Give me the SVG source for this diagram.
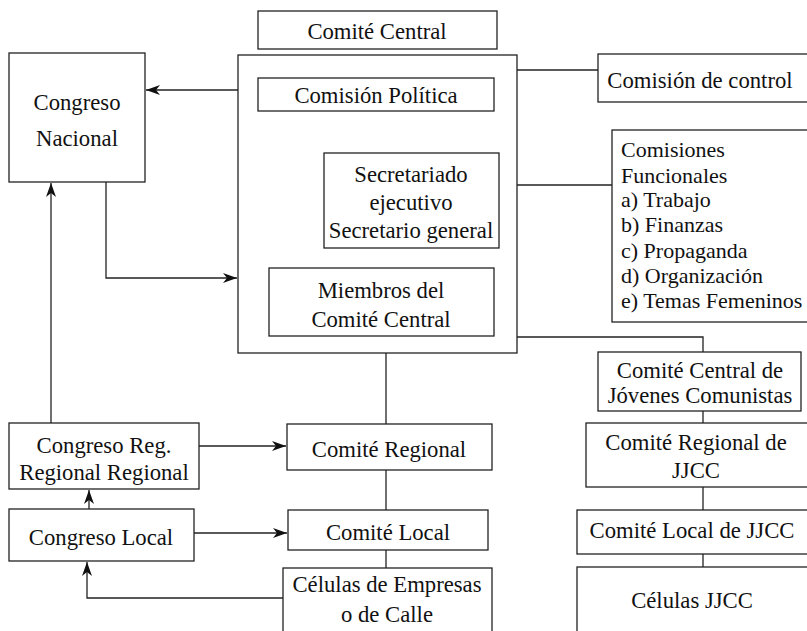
<svg xmlns="http://www.w3.org/2000/svg" width="807" height="631" viewBox="0 0 807 631">
<defs>
<marker id="ah" viewBox="0 0 14 10" refX="14" refY="5" markerWidth="14" markerHeight="10" markerUnits="userSpaceOnUse" orient="auto">
<path d="M0,0 L14,5 L0,10 L4,5 Z" fill="#111"/>
</marker>
</defs>
<style>
rect{fill:#fff;stroke:#222;stroke-width:1.3}
text{font-family:"Liberation Serif","Times New Roman",serif;font-size:22.7px;fill:#111;text-anchor:middle}
.l{text-anchor:start;font-size:22px}
.c line,.c polyline{stroke:#222;stroke-width:1.3;fill:none}
</style>
<rect width="807" height="631" style="fill:#fff;stroke:none"/>
<g class="c" id="connectors">
<line x1="238" y1="90" x2="146" y2="90" marker-end="url(#ah)"/>
<polyline points="106,182 106,278 237,278" marker-end="url(#ah)"/>
<line x1="288" y1="268" x2="288" y2="112" marker-end="url(#ah)"/>
<line x1="288" y1="193" x2="323" y2="193" marker-end="url(#ah)"/>
<line x1="517" y1="70" x2="598" y2="70"/>
<line x1="517" y1="185" x2="612" y2="185"/>
<polyline points="517,337 703,337 703,352"/>
<line x1="51" y1="423" x2="51" y2="183" marker-end="url(#ah)"/>
<line x1="89" y1="509" x2="89" y2="490" marker-end="url(#ah)"/>
<line x1="199" y1="446" x2="286" y2="446" marker-end="url(#ah)"/>
<line x1="194" y1="533" x2="287" y2="533" marker-end="url(#ah)"/>
<polyline points="283,598 87,598 87,562" marker-end="url(#ah)"/>
<line x1="386" y1="353" x2="386" y2="424"/>
<line x1="386" y1="470" x2="386" y2="510"/>
<line x1="386" y1="550" x2="386" y2="568"/>
<line x1="703" y1="411" x2="703" y2="423"/>
<line x1="703" y1="487" x2="703" y2="510"/>
<line x1="703" y1="554" x2="703" y2="567"/>
</g>
<g id="comite-central-title"><rect x="258" y="11" width="239" height="38"/><text x="377" y="39">Comité Central</text></g>
<g id="comite-central-box"><rect x="238" y="55" width="279" height="298"/></g>
<g id="congreso-nacional"><rect x="9" y="53" width="136" height="129"/><text x="77" y="110">Congreso</text><text x="77" y="146">Nacional</text></g>
<g id="comision-politica"><rect x="258" y="78" width="236" height="33"/><text x="376" y="103">Comisión Política</text></g>
<g id="secretariado"><rect x="324" y="153" width="175" height="95"/><text x="411" y="182">Secretariado</text><text x="411" y="210">ejecutivo</text><text x="411" y="238">Secretario general</text></g>
<g id="miembros"><rect x="269" y="268" width="225" height="68"/><text x="381" y="298">Miembros del</text><text x="381" y="327">Comité Central</text></g>
<g id="comision-control"><rect x="598" y="54" width="215" height="48"/><text x="700" y="88">Comisión de control</text></g>
<g id="comisiones-funcionales"><rect x="612" y="130" width="201" height="192"/>
<text class="l" x="621" y="157">Comisiones</text>
<text class="l" x="621" y="183">Funcionales</text>
<text class="l" x="621" y="207">a) Trabajo</text>
<text class="l" x="621" y="232">b) Finanzas</text>
<text class="l" x="621" y="258">c) Propaganda</text>
<text class="l" x="621" y="283">d) Organización</text>
<text class="l" x="621" y="308">e) Temas Femeninos</text></g>
<g id="cc-jovenes"><rect x="598" y="352" width="203" height="59"/><text x="700" y="378">Comité Central de</text><text x="700" y="403">Jóvenes Comunistas</text></g>
<g id="cr-jjcc"><rect x="586" y="423" width="227" height="64"/><text x="696" y="450">Comité Regional de</text><text x="696" y="478">JJCC</text></g>
<g id="cl-jjcc"><rect x="577" y="510" width="236" height="44"/><text x="692" y="538">Comité Local de JJCC</text></g>
<g id="celulas-jjcc"><rect x="577" y="567" width="236" height="70"/><text x="692" y="608">Células JJCC</text></g>
<g id="congreso-reg"><rect x="9" y="423" width="190" height="66"/><text x="104" y="453">Congreso Reg.</text><text x="104" y="480">Regional Regional</text></g>
<g id="congreso-local"><rect x="9" y="509" width="185" height="52"/><text x="101" y="545">Congreso Local</text></g>
<g id="comite-regional"><rect x="287" y="424" width="205" height="46"/><text x="389" y="457">Comité Regional</text></g>
<g id="comite-local"><rect x="288" y="510" width="200" height="40"/><text x="388" y="540">Comité Local</text></g>
<g id="celulas-empresas"><rect x="283" y="568" width="209" height="70"/><text x="387" y="592">Células de Empresas</text><text x="387" y="622">o de Calle</text></g>
</svg>
